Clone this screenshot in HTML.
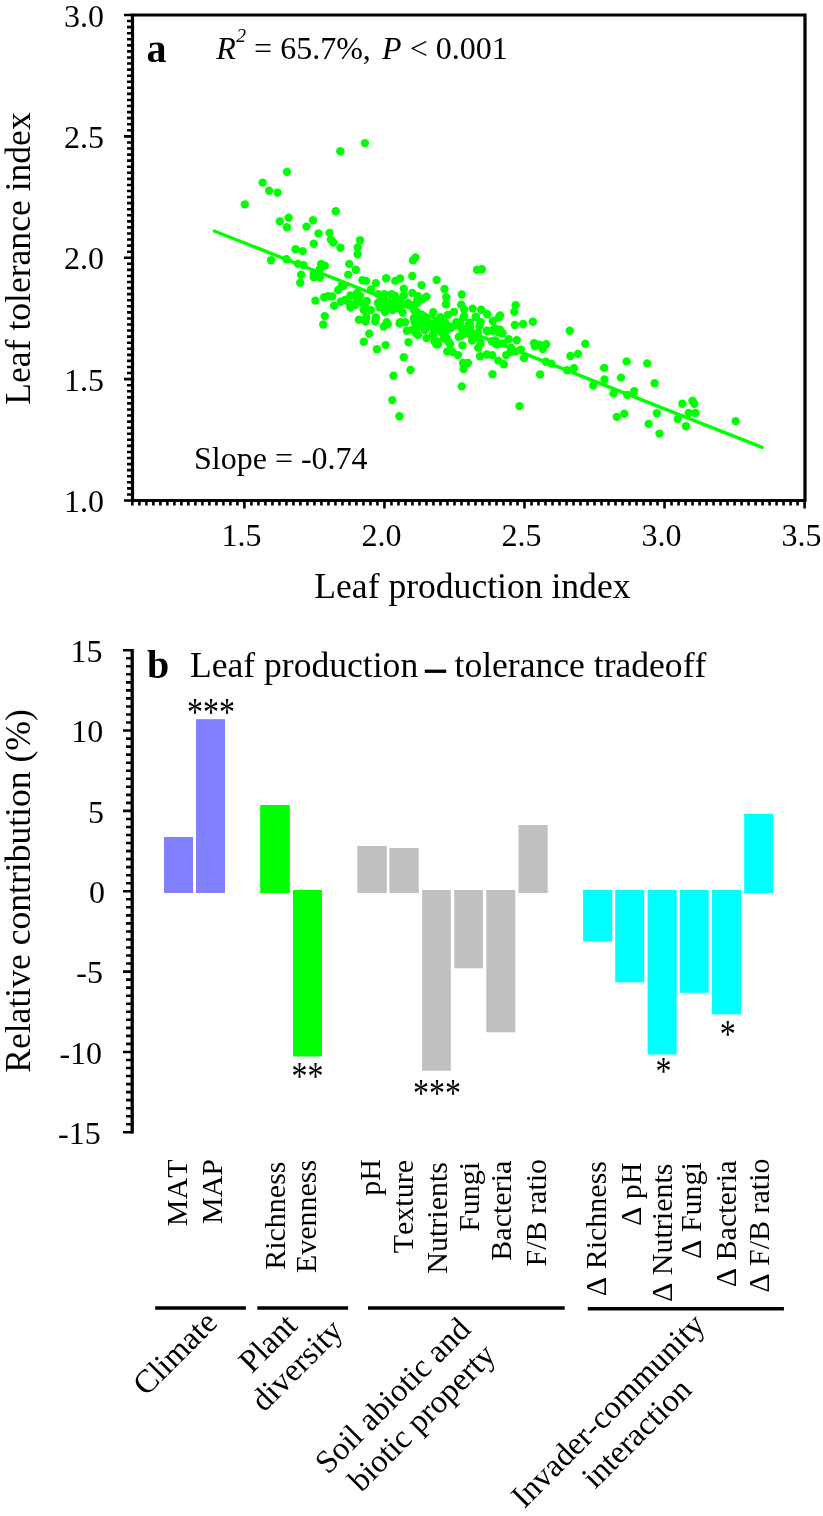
<!DOCTYPE html>
<html><head><meta charset="utf-8"><style>
html,body{margin:0;padding:0;background:#fff;}
svg{display:block;will-change:transform;}
text{font-family:"Liberation Serif",serif;fill:#000;font-kerning:none;}
.t32{font-size:32px;}
.t30{font-size:30px;}
.t36{font-size:35.6px;}
.g32{font-size:32.5px;}
.bold40{font-size:40px;font-weight:bold;}
.star{font-size:32px;}
</style></head><body>
<svg width="823" height="1516" viewBox="0 0 823 1516">
<path d="M124 15.00H132 M127 21.07H132 M127 27.14H132 M127 33.21H132 M127 39.28H132 M127 45.34H132 M127 51.41H132 M127 57.48H132 M127 63.55H132 M127 69.62H132 M127 75.69H132 M127 81.76H132 M127 87.82H132 M127 93.89H132 M127 99.96H132 M127 106.03H132 M127 112.10H132 M127 118.17H132 M127 124.24H132 M127 130.31H132 M124 136.38H132 M127 142.44H132 M127 148.51H132 M127 154.58H132 M127 160.65H132 M127 166.72H132 M127 172.79H132 M127 178.86H132 M127 184.93H132 M127 190.99H132 M127 197.06H132 M127 203.13H132 M127 209.20H132 M127 215.27H132 M127 221.34H132 M127 227.41H132 M127 233.47H132 M127 239.54H132 M127 245.61H132 M127 251.68H132 M124 257.75H132 M127 263.82H132 M127 269.89H132 M127 275.96H132 M127 282.03H132 M127 288.09H132 M127 294.16H132 M127 300.23H132 M127 306.30H132 M127 312.37H132 M127 318.44H132 M127 324.51H132 M127 330.57H132 M127 336.64H132 M127 342.71H132 M127 348.78H132 M127 354.85H132 M127 360.92H132 M127 366.99H132 M127 373.06H132 M124 379.12H132 M127 385.19H132 M127 391.26H132 M127 397.33H132 M127 403.40H132 M127 409.47H132 M127 415.54H132 M127 421.61H132 M127 427.68H132 M127 433.74H132 M127 439.81H132 M127 445.88H132 M127 451.95H132 M127 458.02H132 M127 464.09H132 M127 470.16H132 M127 476.23H132 M127 482.29H132 M127 488.36H132 M127 494.43H132 M124 500.50H132 M132.36 500V505.6 M139.36 500V505.6 M146.37 500V505.6 M153.37 500V505.6 M160.37 500V505.6 M167.37 500V505.6 M174.38 500V505.6 M181.38 500V505.6 M188.38 500V505.6 M195.38 500V505.6 M202.39 500V505.6 M209.39 500V505.6 M216.39 500V505.6 M223.39 500V505.6 M230.40 500V505.6 M237.40 500V505.6 M244.40 500V508.6 M251.40 500V505.6 M258.41 500V505.6 M265.41 500V505.6 M272.41 500V505.6 M279.41 500V505.6 M286.42 500V505.6 M293.42 500V505.6 M300.42 500V505.6 M307.42 500V505.6 M314.43 500V505.6 M321.43 500V505.6 M328.43 500V505.6 M335.43 500V505.6 M342.44 500V505.6 M349.44 500V505.6 M356.44 500V505.6 M363.44 500V505.6 M370.45 500V505.6 M377.45 500V505.6 M384.45 500V508.6 M391.45 500V505.6 M398.46 500V505.6 M405.46 500V505.6 M412.46 500V505.6 M419.46 500V505.6 M426.47 500V505.6 M433.47 500V505.6 M440.47 500V505.6 M447.47 500V505.6 M454.48 500V505.6 M461.48 500V505.6 M468.48 500V505.6 M475.48 500V505.6 M482.49 500V505.6 M489.49 500V505.6 M496.49 500V505.6 M503.49 500V505.6 M510.50 500V505.6 M517.50 500V505.6 M524.50 500V508.6 M531.50 500V505.6 M538.51 500V505.6 M545.51 500V505.6 M552.51 500V505.6 M559.51 500V505.6 M566.52 500V505.6 M573.52 500V505.6 M580.52 500V505.6 M587.52 500V505.6 M594.52 500V505.6 M601.53 500V505.6 M608.53 500V505.6 M615.53 500V505.6 M622.54 500V505.6 M629.54 500V505.6 M636.54 500V505.6 M643.54 500V505.6 M650.55 500V505.6 M657.55 500V505.6 M664.55 500V508.6 M671.55 500V505.6 M678.56 500V505.6 M685.56 500V505.6 M692.56 500V505.6 M699.56 500V505.6 M706.57 500V505.6 M713.57 500V505.6 M720.57 500V505.6 M727.57 500V505.6 M734.58 500V505.6 M741.58 500V505.6 M748.58 500V505.6 M755.58 500V505.6 M762.59 500V505.6 M769.59 500V505.6 M776.59 500V505.6 M783.59 500V505.6 M790.60 500V505.6 M797.60 500V505.6 M804.60 500V508.6" stroke="#000" stroke-width="2.6" fill="none"/>
<path d="M132.5 15H805V500.5H132.5Z" fill="none" stroke="#000" stroke-width="3.2" stroke-linejoin="miter"/>
<path d="M213 230.5L763.5 448" stroke="#00ff00" stroke-width="3.4" fill="none"/>
<g fill="#00ff00">
<circle cx="286.9" cy="171.9" r="4.2"/>
<circle cx="262.6" cy="182.6" r="4.2"/>
<circle cx="269.1" cy="190.8" r="4.2"/>
<circle cx="277.6" cy="192.6" r="4.2"/>
<circle cx="244.8" cy="204.4" r="4.2"/>
<circle cx="288.6" cy="217.7" r="4.2"/>
<circle cx="279.8" cy="221.4" r="4.2"/>
<circle cx="286.9" cy="227.2" r="4.2"/>
<circle cx="313.0" cy="220.2" r="4.2"/>
<circle cx="306.5" cy="226.6" r="4.2"/>
<circle cx="340.3" cy="151.3" r="4.2"/>
<circle cx="364.9" cy="143.1" r="4.2"/>
<circle cx="335.8" cy="211.2" r="4.2"/>
<circle cx="318.5" cy="233.5" r="4.2"/>
<circle cx="329.5" cy="232.9" r="4.2"/>
<circle cx="330.9" cy="239.6" r="4.2"/>
<circle cx="333.4" cy="242.6" r="4.2"/>
<circle cx="313.8" cy="243.8" r="4.2"/>
<circle cx="295.6" cy="249.3" r="4.2"/>
<circle cx="302.7" cy="251.1" r="4.2"/>
<circle cx="271.1" cy="260.2" r="4.2"/>
<circle cx="286.5" cy="259.3" r="4.2"/>
<circle cx="298.0" cy="263.9" r="4.2"/>
<circle cx="303.5" cy="265.1" r="4.2"/>
<circle cx="321.1" cy="263.9" r="4.2"/>
<circle cx="324.8" cy="265.7" r="4.2"/>
<circle cx="319.9" cy="269.3" r="4.2"/>
<circle cx="313.8" cy="273.6" r="4.2"/>
<circle cx="313.8" cy="277.2" r="4.2"/>
<circle cx="319.9" cy="277.2" r="4.2"/>
<circle cx="301.1" cy="274.8" r="4.2"/>
<circle cx="300.2" cy="282.7" r="4.2"/>
<circle cx="315.4" cy="300.6" r="4.2"/>
<circle cx="324.2" cy="297.3" r="4.2"/>
<circle cx="328.4" cy="296.1" r="4.2"/>
<circle cx="324.8" cy="316.1" r="4.2"/>
<circle cx="323.3" cy="324.5" r="4.2"/>
<circle cx="340.4" cy="247.8" r="4.2"/>
<circle cx="360.1" cy="240.2" r="4.2"/>
<circle cx="357.7" cy="247.5" r="4.2"/>
<circle cx="357.7" cy="254.2" r="4.2"/>
<circle cx="349.2" cy="263.9" r="4.2"/>
<circle cx="355.8" cy="269.7" r="4.2"/>
<circle cx="348.2" cy="274.6" r="4.2"/>
<circle cx="413.0" cy="260.2" r="4.2"/>
<circle cx="415.5" cy="257.5" r="4.2"/>
<circle cx="386.2" cy="278.2" r="4.2"/>
<circle cx="412.3" cy="276.0" r="4.2"/>
<circle cx="362.5" cy="280.3" r="4.2"/>
<circle cx="366.2" cy="280.9" r="4.2"/>
<circle cx="375.9" cy="283.1" r="4.2"/>
<circle cx="395.3" cy="280.9" r="4.2"/>
<circle cx="400.2" cy="278.5" r="4.2"/>
<circle cx="421.5" cy="285.1" r="4.2"/>
<circle cx="403.8" cy="288.8" r="4.2"/>
<circle cx="403.8" cy="295.5" r="4.2"/>
<circle cx="341.9" cy="285.1" r="4.2"/>
<circle cx="338.2" cy="290.0" r="4.2"/>
<circle cx="343.7" cy="285.8" r="4.2"/>
<circle cx="332.2" cy="296.4" r="4.2"/>
<circle cx="340.7" cy="301.8" r="4.2"/>
<circle cx="334.0" cy="305.8" r="4.2"/>
<circle cx="350.4" cy="295.5" r="4.2"/>
<circle cx="357.1" cy="293.0" r="4.2"/>
<circle cx="349.8" cy="304.0" r="4.2"/>
<circle cx="350.4" cy="307.6" r="4.2"/>
<circle cx="356.5" cy="299.1" r="4.2"/>
<circle cx="366.8" cy="300.9" r="4.2"/>
<circle cx="362.5" cy="302.8" r="4.2"/>
<circle cx="371.0" cy="289.4" r="4.2"/>
<circle cx="378.3" cy="294.3" r="4.2"/>
<circle cx="384.4" cy="294.3" r="4.2"/>
<circle cx="391.7" cy="294.3" r="4.2"/>
<circle cx="380.8" cy="300.3" r="4.2"/>
<circle cx="388.0" cy="301.5" r="4.2"/>
<circle cx="395.3" cy="302.8" r="4.2"/>
<circle cx="379.5" cy="307.6" r="4.2"/>
<circle cx="385.6" cy="310.1" r="4.2"/>
<circle cx="392.9" cy="310.1" r="4.2"/>
<circle cx="400.2" cy="305.2" r="4.2"/>
<circle cx="402.6" cy="312.5" r="4.2"/>
<circle cx="412.3" cy="293.0" r="4.2"/>
<circle cx="417.2" cy="300.3" r="4.2"/>
<circle cx="412.3" cy="305.2" r="4.2"/>
<circle cx="416.0" cy="312.5" r="4.2"/>
<circle cx="416.0" cy="319.8" r="4.2"/>
<circle cx="363.7" cy="310.1" r="4.2"/>
<circle cx="371.0" cy="310.1" r="4.2"/>
<circle cx="366.2" cy="317.3" r="4.2"/>
<circle cx="375.9" cy="317.3" r="4.2"/>
<circle cx="358.9" cy="319.8" r="4.2"/>
<circle cx="386.8" cy="322.2" r="4.2"/>
<circle cx="400.2" cy="322.2" r="4.2"/>
<circle cx="477.0" cy="269.7" r="4.2"/>
<circle cx="481.8" cy="269.3" r="4.2"/>
<circle cx="436.6" cy="280.0" r="4.2"/>
<circle cx="444.5" cy="289.0" r="4.2"/>
<circle cx="446.3" cy="297.3" r="4.2"/>
<circle cx="446.0" cy="304.2" r="4.2"/>
<circle cx="461.8" cy="294.5" r="4.2"/>
<circle cx="426.5" cy="296.7" r="4.2"/>
<circle cx="422.3" cy="299.1" r="4.2"/>
<circle cx="418.0" cy="296.1" r="4.2"/>
<circle cx="417.4" cy="302.8" r="4.2"/>
<circle cx="461.2" cy="304.6" r="4.2"/>
<circle cx="464.2" cy="309.4" r="4.2"/>
<circle cx="472.7" cy="308.6" r="4.2"/>
<circle cx="481.2" cy="309.7" r="4.2"/>
<circle cx="487.3" cy="314.3" r="4.2"/>
<circle cx="500.1" cy="315.5" r="4.2"/>
<circle cx="475.8" cy="316.7" r="4.2"/>
<circle cx="464.2" cy="316.1" r="4.2"/>
<circle cx="453.9" cy="311.9" r="4.2"/>
<circle cx="433.2" cy="312.2" r="4.2"/>
<circle cx="447.8" cy="314.9" r="4.2"/>
<circle cx="440.5" cy="317.3" r="4.2"/>
<circle cx="422.3" cy="314.9" r="4.2"/>
<circle cx="417.4" cy="312.5" r="4.2"/>
<circle cx="427.2" cy="321.0" r="4.2"/>
<circle cx="515.7" cy="305.2" r="4.2"/>
<circle cx="514.3" cy="311.9" r="4.2"/>
<circle cx="469.7" cy="322.8" r="4.2"/>
<circle cx="480.6" cy="322.2" r="4.2"/>
<circle cx="492.8" cy="321.0" r="4.2"/>
<circle cx="514.9" cy="325.0" r="4.2"/>
<circle cx="456.3" cy="322.2" r="4.2"/>
<circle cx="445.4" cy="322.8" r="4.2"/>
<circle cx="532.8" cy="321.8" r="4.2"/>
<circle cx="523.1" cy="324.0" r="4.2"/>
<circle cx="365.6" cy="321.5" r="4.2"/>
<circle cx="375.3" cy="321.5" r="4.2"/>
<circle cx="383.8" cy="326.5" r="4.2"/>
<circle cx="387.8" cy="324.1" r="4.2"/>
<circle cx="399.6" cy="323.5" r="4.2"/>
<circle cx="405.1" cy="322.3" r="4.2"/>
<circle cx="406.9" cy="330.8" r="4.2"/>
<circle cx="414.8" cy="322.3" r="4.2"/>
<circle cx="416.0" cy="333.2" r="4.2"/>
<circle cx="417.2" cy="327.2" r="4.2"/>
<circle cx="369.2" cy="333.8" r="4.2"/>
<circle cx="363.7" cy="341.7" r="4.2"/>
<circle cx="385.6" cy="345.1" r="4.2"/>
<circle cx="376.9" cy="349.3" r="4.2"/>
<circle cx="408.5" cy="342.3" r="4.2"/>
<circle cx="403.8" cy="357.3" r="4.2"/>
<circle cx="410.5" cy="370.0" r="4.2"/>
<circle cx="393.5" cy="375.8" r="4.2"/>
<circle cx="392.3" cy="400.1" r="4.2"/>
<circle cx="426.5" cy="338.1" r="4.2"/>
<circle cx="428.4" cy="324.7" r="4.2"/>
<circle cx="436.3" cy="344.2" r="4.2"/>
<circle cx="434.4" cy="341.1" r="4.2"/>
<circle cx="436.3" cy="329.6" r="4.2"/>
<circle cx="441.7" cy="332.0" r="4.2"/>
<circle cx="446.6" cy="338.1" r="4.2"/>
<circle cx="450.2" cy="344.2" r="4.2"/>
<circle cx="447.2" cy="351.5" r="4.2"/>
<circle cx="452.7" cy="352.1" r="4.2"/>
<circle cx="458.1" cy="355.1" r="4.2"/>
<circle cx="453.9" cy="325.9" r="4.2"/>
<circle cx="460.0" cy="322.3" r="4.2"/>
<circle cx="458.7" cy="336.9" r="4.2"/>
<circle cx="462.4" cy="345.4" r="4.2"/>
<circle cx="464.8" cy="333.2" r="4.2"/>
<circle cx="469.7" cy="324.7" r="4.2"/>
<circle cx="470.9" cy="332.0" r="4.2"/>
<circle cx="472.1" cy="340.5" r="4.2"/>
<circle cx="479.4" cy="325.9" r="4.2"/>
<circle cx="477.0" cy="336.9" r="4.2"/>
<circle cx="480.6" cy="343.0" r="4.2"/>
<circle cx="478.2" cy="347.8" r="4.2"/>
<circle cx="480.0" cy="356.3" r="4.2"/>
<circle cx="486.7" cy="330.8" r="4.2"/>
<circle cx="492.8" cy="330.8" r="4.2"/>
<circle cx="500.1" cy="329.6" r="4.2"/>
<circle cx="502.5" cy="333.2" r="4.2"/>
<circle cx="497.6" cy="344.2" r="4.2"/>
<circle cx="495.2" cy="340.5" r="4.2"/>
<circle cx="486.7" cy="354.5" r="4.2"/>
<circle cx="492.2" cy="355.1" r="4.2"/>
<circle cx="508.6" cy="339.3" r="4.2"/>
<circle cx="511.0" cy="347.8" r="4.2"/>
<circle cx="506.1" cy="355.1" r="4.2"/>
<circle cx="498.2" cy="360.6" r="4.2"/>
<circle cx="503.7" cy="364.2" r="4.2"/>
<circle cx="463.0" cy="363.0" r="4.2"/>
<circle cx="467.9" cy="363.0" r="4.2"/>
<circle cx="463.6" cy="369.1" r="4.2"/>
<circle cx="492.5" cy="374.2" r="4.2"/>
<circle cx="461.8" cy="386.4" r="4.2"/>
<circle cx="475.8" cy="317.4" r="4.2"/>
<circle cx="498.8" cy="317.4" r="4.2"/>
<circle cx="463.6" cy="317.4" r="4.2"/>
<circle cx="516.7" cy="340.3" r="4.2"/>
<circle cx="510.5" cy="352.0" r="4.2"/>
<circle cx="515.5" cy="351.5" r="4.2"/>
<circle cx="520.9" cy="349.6" r="4.2"/>
<circle cx="524.0" cy="358.1" r="4.2"/>
<circle cx="534.1" cy="343.2" r="4.2"/>
<circle cx="534.9" cy="346.3" r="4.2"/>
<circle cx="539.2" cy="344.8" r="4.2"/>
<circle cx="542.8" cy="349.0" r="4.2"/>
<circle cx="546.2" cy="344.2" r="4.2"/>
<circle cx="545.8" cy="361.8" r="4.2"/>
<circle cx="551.3" cy="363.6" r="4.2"/>
<circle cx="540.1" cy="374.5" r="4.2"/>
<circle cx="569.8" cy="330.8" r="4.2"/>
<circle cx="585.3" cy="343.8" r="4.2"/>
<circle cx="570.4" cy="356.0" r="4.2"/>
<circle cx="578.0" cy="353.9" r="4.2"/>
<circle cx="567.1" cy="370.3" r="4.2"/>
<circle cx="574.0" cy="368.2" r="4.2"/>
<circle cx="604.2" cy="367.9" r="4.2"/>
<circle cx="604.5" cy="379.4" r="4.2"/>
<circle cx="593.2" cy="385.5" r="4.2"/>
<circle cx="519.5" cy="406.1" r="4.2"/>
<circle cx="626.6" cy="361.4" r="4.2"/>
<circle cx="647.2" cy="363.4" r="4.2"/>
<circle cx="621.0" cy="377.6" r="4.2"/>
<circle cx="654.6" cy="383.3" r="4.2"/>
<circle cx="613.5" cy="393.4" r="4.2"/>
<circle cx="627.2" cy="395.0" r="4.2"/>
<circle cx="634.2" cy="391.3" r="4.2"/>
<circle cx="682.4" cy="403.7" r="4.2"/>
<circle cx="692.5" cy="400.7" r="4.2"/>
<circle cx="694.3" cy="403.7" r="4.2"/>
<circle cx="616.8" cy="416.9" r="4.2"/>
<circle cx="624.3" cy="413.8" r="4.2"/>
<circle cx="656.9" cy="413.2" r="4.2"/>
<circle cx="648.6" cy="423.9" r="4.2"/>
<circle cx="659.5" cy="433.6" r="4.2"/>
<circle cx="677.8" cy="419.1" r="4.2"/>
<circle cx="688.7" cy="413.0" r="4.2"/>
<circle cx="695.4" cy="413.0" r="4.2"/>
<circle cx="686.0" cy="426.2" r="4.2"/>
<circle cx="735.6" cy="421.1" r="4.2"/>
<circle cx="399.4" cy="416.2" r="4.2"/>
<circle cx="383" cy="298" r="4.2"/>
<circle cx="390" cy="305" r="4.2"/>
<circle cx="398" cy="308" r="4.2"/>
<circle cx="385" cy="312" r="4.2"/>
<circle cx="395" cy="296" r="4.2"/>
<circle cx="378" cy="303" r="4.2"/>
<circle cx="400" cy="300" r="4.2"/>
<circle cx="360" cy="296" r="4.2"/>
<circle cx="355" cy="305" r="4.2"/>
<circle cx="365" cy="307" r="4.2"/>
<circle cx="345" cy="300" r="4.2"/>
<circle cx="414" cy="318" r="4.2"/>
<circle cx="420" cy="325" r="4.2"/>
<circle cx="412" cy="330" r="4.2"/>
<circle cx="418" cy="335" r="4.2"/>
<circle cx="425" cy="330" r="4.2"/>
<circle cx="433.5" cy="328.1" r="4.2"/>
<circle cx="436.5" cy="341.2" r="4.2"/>
<circle cx="430.6" cy="323.7" r="4.2"/>
<circle cx="443.7" cy="338.3" r="4.2"/>
<circle cx="437.9" cy="344.2" r="4.2"/>
<circle cx="448.1" cy="341.2" r="4.2"/>
<circle cx="451" cy="328.1" r="4.2"/>
<circle cx="461.2" cy="328.1" r="4.2"/>
<circle cx="468.5" cy="325.2" r="4.2"/>
<circle cx="470" cy="334" r="4.2"/>
<circle cx="461.2" cy="335.4" r="4.2"/>
<circle cx="487.5" cy="331" r="4.2"/>
<circle cx="494.8" cy="328.1" r="4.2"/>
<circle cx="499.2" cy="332.5" r="4.2"/>
<circle cx="496.2" cy="344.2" r="4.2"/>
<circle cx="491.9" cy="341.2" r="4.2"/>
<circle cx="408" cy="303" r="4.2"/>
<circle cx="421" cy="319" r="4.2"/>
<circle cx="383.5" cy="304.5" r="4.2"/>
<circle cx="414" cy="310" r="4.2"/>
<circle cx="437" cy="322" r="4.2"/>
<circle cx="442" cy="326" r="4.2"/>
<circle cx="433" cy="335" r="4.2"/>
<circle cx="446" cy="331" r="4.2"/>
<circle cx="470" cy="327" r="4.2"/>
<circle cx="478" cy="333" r="4.2"/>
<circle cx="503" cy="343.5" r="4.2"/>
<circle cx="498" cy="343.5" r="4.2"/>
</g>
<text x="104" y="26.6" class="t32" text-anchor="end">3.0</text>
<text x="104" y="148.0" class="t32" text-anchor="end">2.5</text>
<text x="104" y="269.4" class="t32" text-anchor="end">2.0</text>
<text x="104" y="390.7" class="t32" text-anchor="end">1.5</text>
<text x="104" y="512.1" class="t32" text-anchor="end">1.0</text>
<text x="241.4" y="546.4" class="t32" text-anchor="middle">1.5</text>
<text x="381.5" y="546.4" class="t32" text-anchor="middle">2.0</text>
<text x="521.5" y="546.4" class="t32" text-anchor="middle">2.5</text>
<text x="661.6" y="546.4" class="t32" text-anchor="middle">3.0</text>
<text x="801.6" y="546.4" class="t32" text-anchor="middle">3.5</text>
<text x="146.5" y="61.6" class="bold40" font-size="41">a</text>
<text x="216.3" y="59" class="t32" font-size="32.5"><tspan font-style="italic">R</tspan><tspan font-size="19.5" font-style="italic" dx="0.5" dy="-17">2</tspan><tspan dx="0" dy="17"> = 65.7%, </tspan><tspan font-style="italic" dx="3.3">P</tspan> &lt; 0.001</text>
<text x="194" y="468.8" class="t32">Slope = -0.74</text>
<text transform="translate(29.9 258.5) rotate(-90)" class="t36" text-anchor="middle">Leaf tolerance index</text>
<text x="472.4" y="597.7" class="t36" text-anchor="middle">Leaf production index</text>
<path d="M123 650.20H132 M126 658.24H132 M126 666.27H132 M126 674.31H132 M126 682.34H132 M126 690.38H132 M126 698.41H132 M126 706.45H132 M126 714.48H132 M126 722.52H132 M123 730.55H132 M126 738.59H132 M126 746.62H132 M126 754.66H132 M126 762.69H132 M126 770.73H132 M126 778.76H132 M126 786.80H132 M126 794.83H132 M126 802.87H132 M123 810.90H132 M126 818.94H132 M126 826.97H132 M126 835.01H132 M126 843.04H132 M126 851.08H132 M126 859.11H132 M126 867.14H132 M126 875.18H132 M126 883.22H132 M123 891.25H132 M126 899.29H132 M126 907.32H132 M126 915.36H132 M126 923.39H132 M126 931.43H132 M126 939.46H132 M126 947.50H132 M126 955.53H132 M126 963.57H132 M123 971.60H132 M126 979.63H132 M126 987.67H132 M126 995.71H132 M126 1003.74H132 M126 1011.78H132 M126 1019.81H132 M126 1027.85H132 M126 1035.88H132 M126 1043.91H132 M123 1051.95H132 M126 1059.99H132 M126 1068.02H132 M126 1076.06H132 M126 1084.09H132 M126 1092.12H132 M126 1100.16H132 M126 1108.20H132 M126 1116.23H132 M126 1124.27H132 M123 1132.30H132" stroke="#000" stroke-width="2.6" fill="none"/>
<path d="M132.2 648.90V1133.60" stroke="#000" stroke-width="3.3"/>
<text x="102.5" y="661.8" class="t32" text-anchor="end">15</text>
<text x="103.3" y="742.2" class="t32" text-anchor="end">10</text>
<text x="104" y="822.5" class="t32" text-anchor="end">5</text>
<text x="105" y="902.9" class="t32" text-anchor="end">0</text>
<text x="103" y="983.2" class="t32" text-anchor="end">-5</text>
<text x="102.1" y="1063.5" class="t32" text-anchor="end">-10</text>
<text x="100.7" y="1143.9" class="t32" text-anchor="end">-15</text>
<rect x="164" y="837" width="29.0" height="56.0" fill="#8080ff"/>
<rect x="196" y="719.2" width="29.0" height="173.8" fill="#8080ff"/>
<rect x="260.2" y="805" width="29.6" height="88.0" fill="#00ff00"/>
<rect x="293" y="890" width="29.0" height="166.5" fill="#00ff00"/>
<rect x="357.3" y="846" width="29.5" height="47.0" fill="#c0c0c0"/>
<rect x="389.4" y="848" width="29.3" height="45.0" fill="#c0c0c0"/>
<rect x="422.1" y="890" width="28.7" height="180.7" fill="#c0c0c0"/>
<rect x="454.2" y="890" width="28.7" height="78.3" fill="#c0c0c0"/>
<rect x="486.3" y="890" width="29.0" height="142.3" fill="#c0c0c0"/>
<rect x="518.5" y="825" width="29.2" height="68.0" fill="#c0c0c0"/>
<rect x="583.1" y="890" width="29.2" height="51.6" fill="#00ffff"/>
<rect x="615.2" y="890" width="29.0" height="92.3" fill="#00ffff"/>
<rect x="647.6" y="890" width="29.1" height="164.5" fill="#00ffff"/>
<rect x="679.7" y="890" width="29.0" height="102.8" fill="#00ffff"/>
<rect x="712.0" y="890" width="29.0" height="124.3" fill="#00ffff"/>
<rect x="744.2" y="813.8" width="29.0" height="79.2" fill="#00ffff"/>
<text x="147" y="677.5" class="bold40">b</text>
<text x="190" y="677.3" class="t36">Leaf production</text>
<rect x="424.8" y="669.6" width="21.4" height="3.3" fill="#000"/>
<text x="454.5" y="677.3" class="t36">tolerance tradeoff</text>
<text transform="translate(29.8 891) rotate(-90)" class="t36" text-anchor="middle">Relative contribution (%)</text>
<text transform="translate(210.95 706.4) scale(1 1.22)" x="0" y="15.09" class="star" text-anchor="middle">***</text>
<text transform="translate(307.6 1070.4) scale(1 1.22)" x="0" y="15.09" class="star" text-anchor="middle">**</text>
<text transform="translate(437.1 1087.3) scale(1 1.22)" x="0" y="15.09" class="star" text-anchor="middle">***</text>
<text transform="translate(663.4 1065.65) scale(1 1.22)" x="0" y="15.09" class="star" text-anchor="middle">*</text>
<text transform="translate(727.8 1028.45) scale(1 1.22)" x="0" y="15.09" class="star" text-anchor="middle">*</text>
<text transform="translate(186.6 1159.5) rotate(-90)" class="t30" text-anchor="end">MAT</text>
<text transform="translate(221.6 1159.0) rotate(-90)" class="t30" text-anchor="end">MAP</text>
<text transform="translate(284.6 1161.5) rotate(-90)" class="t30" text-anchor="end">Richness</text>
<text transform="translate(316.2 1159.8) rotate(-90)" class="t30" text-anchor="end">Evenness</text>
<text transform="translate(379.8 1159.0) rotate(-90)" class="t30" text-anchor="end">pH</text>
<text transform="translate(413.2 1160.0) rotate(-90)" class="t30" text-anchor="end">Texture</text>
<text transform="translate(446.6 1162.0) rotate(-90)" class="t30" text-anchor="end">Nutrients</text>
<text transform="translate(479.4 1161.8) rotate(-90)" class="t30" text-anchor="end">Fungi</text>
<text transform="translate(510.7 1160.7) rotate(-90)" class="t30" text-anchor="end">Bacteria</text>
<text transform="translate(545.7 1158.9) rotate(-90)" class="t30" text-anchor="end">F/B ratio</text>
<text transform="translate(605.6 1161.0) rotate(-90)" class="t30" text-anchor="end">Δ Richness</text>
<text transform="translate(641.3 1162.5) rotate(-90)" class="t30" text-anchor="end">Δ pH</text>
<text transform="translate(672.0 1163.5) rotate(-90)" class="t30" text-anchor="end">Δ Nutrients</text>
<text transform="translate(701.2 1162.1) rotate(-90)" class="t30" text-anchor="end">Δ Fungi</text>
<text transform="translate(736.2 1160.5) rotate(-90)" class="t30" text-anchor="end">Δ Bacteria</text>
<text transform="translate(769.3 1158.5) rotate(-90)" class="t30" text-anchor="end">Δ F/B ratio</text>
<path d="M155.2 1308H245.9M257.3 1308H348.1M368 1308H564.7M587.8 1308.7H783.9" stroke="#000" stroke-width="3.5"/>
<text transform="translate(146.1 1397.1) rotate(-45)" class="g32">Climate</text>
<text transform="translate(251.7 1374.3) rotate(-45)" class="g32">Plant</text>
<text transform="translate(264.1 1412.9) rotate(-45)" class="g32">diversity</text>
<text transform="translate(327.9 1475.2) rotate(-45)" class="g32">Soil abiotic and</text>
<text transform="translate(361.2 1492.9) rotate(-45)" class="g32">biotic property</text>
<text transform="translate(524.3 1509.2) rotate(-45)" class="g32">Invader-community</text>
<text transform="translate(595.0 1489.8) rotate(-45)" class="g32">interaction</text>
</svg>
</body></html>
